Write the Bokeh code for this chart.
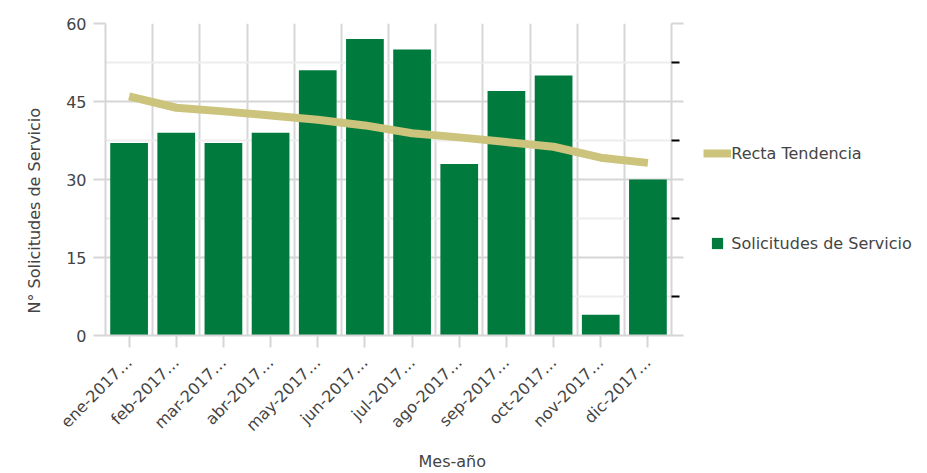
from math import pi

from bokeh.embed import file_html
from bokeh.models import (FixedTicker, Legend, LegendItem, LinearAxis,
                          Range1d, Title)
from bokeh.plotting import figure
from bokeh.resources import INLINE

# Monthly service requests for 2017 and their trend line
months = ["ene-2017…", "feb-2017…", "mar-2017…", "abr-2017…", "may-2017…",
          "jun-2017…", "jul-2017…", "ago-2017…", "sep-2017…", "oct-2017…",
          "nov-2017…", "dic-2017…"]
solicitudes = [37, 39, 37, 39, 51, 57, 55, 33, 47, 50, 4, 30]
tendencia = [46, 43.8, 43.1, 42.3, 41.5, 40.4, 38.9, 38.1, 37.2, 36.3, 34.2, 33.2]
y_ticks = [0, 15, 30, 45, 60]
y_minor = [7.5, 22.5, 37.5, 52.5]

GREEN = "#007a3d"
KHAKI = "#ccc47c"
GRID = "#d6d6d6"
TEXT = "#444444"
FONT = "DejaVu Sans"

xs = [i + 0.5 for i in range(len(months))]

p = figure(width=927, height=473, output_backend="svg", toolbar_location=None,
           x_range=Range1d(0, len(months)), y_range=Range1d(0, 60),
           min_border_left=105, min_border_top=23, min_border_bottom=138,
           min_border_right=256)
p.frame_width = 566
p.frame_height = 312
p.outline_line_color = None
p.background_fill_color = "white"

bars = p.vbar(x=xs, top=solicitudes, width=0.8, fill_color=GREEN, line_color=None)
trend = p.line(x=xs, y=tendencia, line_color=KHAKI, line_width=8)
swatch = p.scatter(x=[-10], y=[-10], marker="square", size=12,
                   fill_color=GREEN, line_color=None)

# Bottom axis: month labels at bar centres, grid lines on category borders
xax = p.xaxis[0]
xax.ticker = FixedTicker(ticks=xs)
xax.major_label_overrides = {x: m for x, m in zip(xs, months)}
xax.major_label_orientation = pi / 4
xax.major_label_text_font = FONT
xax.major_label_text_font_size = "16px"
xax.major_label_text_color = TEXT
xax.major_tick_line_color = GRID
xax.major_tick_line_width = 2
xax.major_tick_out = 12
xax.major_tick_in = 0
xax.minor_tick_line_color = None
xax.axis_line_color = GRID
xax.axis_line_width = 2
xax.major_label_standoff = 12

p.xgrid.ticker = FixedTicker(ticks=list(range(1, len(months))))
p.xgrid.grid_line_color = GRID
p.xgrid.grid_line_width = 2

# Left axis
yax = p.yaxis[0]
yax.ticker = FixedTicker(ticks=y_ticks, minor_ticks=y_minor)
yax.major_label_text_font = FONT
yax.major_label_text_font_size = "16px"
yax.major_label_text_color = TEXT
yax.major_tick_line_color = GRID
yax.major_tick_line_width = 2
yax.major_tick_out = 12
yax.major_tick_in = 0
yax.minor_tick_line_color = None
yax.axis_line_color = GRID
yax.axis_line_width = 2
yax.major_label_standoff = 7

p.ygrid.ticker = FixedTicker(ticks=y_ticks, minor_ticks=y_minor)
p.ygrid.grid_line_color = GRID
p.ygrid.grid_line_width = 2
p.ygrid.minor_grid_line_color = "#ededed"
p.ygrid.minor_grid_line_width = 2

# Right axis: grey border with dark minor marks
rax = LinearAxis(ticker=FixedTicker(ticks=y_ticks, minor_ticks=y_minor))
rax.major_label_text_font_size = "0px"
rax.major_label_text_color = None
rax.major_label_standoff = 0
rax.major_tick_line_color = GRID
rax.major_tick_line_width = 2
rax.major_tick_out = 12
rax.major_tick_in = 0
rax.minor_tick_line_color = "black"
rax.minor_tick_line_width = 2
rax.minor_tick_out = 8
rax.minor_tick_in = 0
rax.axis_line_color = GRID
rax.axis_line_width = 2
p.add_layout(rax, "right")

# Axis titles
p.add_layout(Title(text="N° Solicitudes de Servicio", align="left", offset=22,
                   standoff=36, vertical_align="top", text_font=FONT,
                   text_font_size="16px", text_font_style="normal",
                   text_color=TEXT), "left")
p.add_layout(Title(text="Mes-año", align="left", offset=313, standoff=11,
                   text_font=FONT, text_font_size="16px",
                   text_font_style="normal", text_color=TEXT), "below")

legend = Legend(items=[LegendItem(label="Recta Tendencia", renderers=[trend]),
                       LegendItem(label="Solicitudes de Servicio", renderers=[swatch])],
                location=(-216, 77), orientation="vertical",
                glyph_width=28, glyph_height=30, label_height=30,
                spacing=60, label_standoff=0, padding=10, margin=0,
                border_line_color=None, background_fill_alpha=0,
                label_text_font=FONT, label_text_font_size="16px",
                label_text_color=TEXT)
p.add_layout(legend, "right")

open("out.html", "w").write(file_html(p, INLINE))
